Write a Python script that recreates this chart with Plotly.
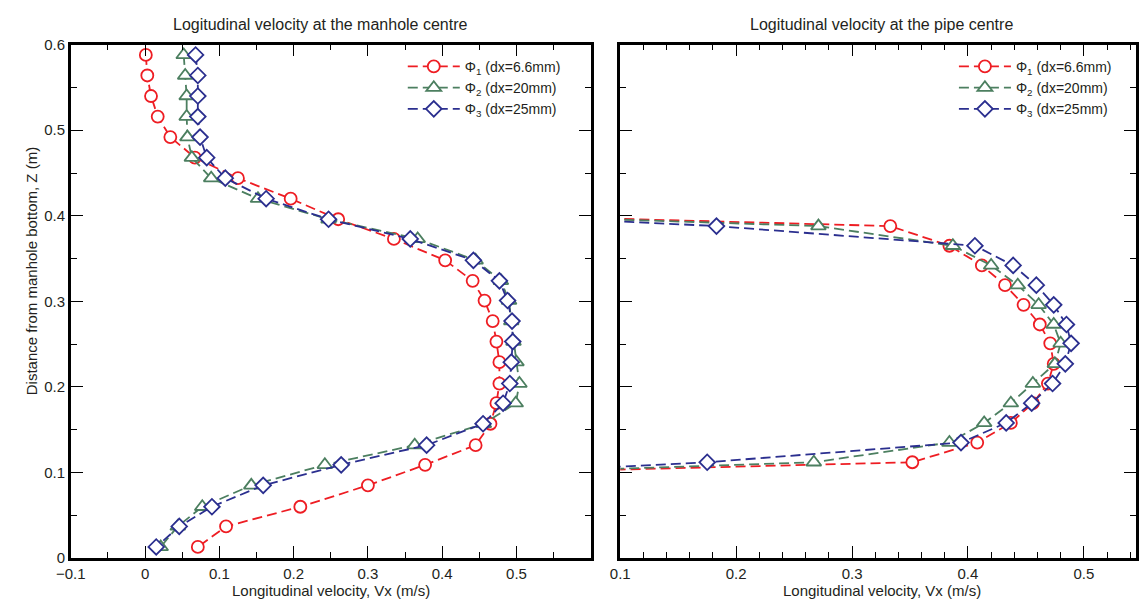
import plotly.graph_objects as go

# ---------------- data ----------------
z_manhole = [0.588, 0.564, 0.540, 0.516, 0.492, 0.468, 0.444, 0.420, 0.396, 0.373,
             0.348, 0.324, 0.301, 0.277, 0.253, 0.229, 0.204, 0.181, 0.157, 0.132,
             0.109, 0.085, 0.060, 0.037, 0.013]
vx_manhole_phi1 = [0.001, 0.003, 0.008, 0.017, 0.034, 0.067, 0.125, 0.196, 0.260, 0.335,
                   0.404, 0.441, 0.457, 0.468, 0.473, 0.477, 0.477, 0.473, 0.465, 0.445,
                   0.377, 0.300, 0.209, 0.109, 0.071]
vx_manhole_phi2 = [0.052, 0.054, 0.056, 0.056, 0.057, 0.063, 0.089, 0.152, 0.247, 0.367,
                   0.445, 0.479, 0.490, 0.493, 0.496, 0.500, 0.504, 0.499, 0.456, 0.363,
                   0.242, 0.143, 0.077, 0.044, 0.021]
vx_manhole_phi3 = [0.068, 0.071, 0.071, 0.071, 0.074, 0.083, 0.108, 0.163, 0.247, 0.357,
                   0.442, 0.477, 0.488, 0.494, 0.495, 0.493, 0.491, 0.482, 0.455, 0.379,
                   0.264, 0.159, 0.090, 0.046, 0.015]

z_pipe = [0.400, 0.388, 0.365, 0.342, 0.319, 0.296, 0.273, 0.251, 0.227, 0.204,
          0.181, 0.158, 0.135, 0.112, 0.100]
vx_pipe_phi1 = [0.0, 0.333, 0.384, 0.412, 0.432, 0.448, 0.462, 0.471, 0.474, 0.469,
                0.456, 0.437, 0.408, 0.352, 0.0]
vx_pipe_phi2 = [0.0, 0.271, 0.387, 0.420, 0.443, 0.461, 0.474, 0.480, 0.475, 0.456,
                0.437, 0.414, 0.384, 0.267, 0.0]
vx_pipe_phi3 = [0.0, 0.183, 0.406, 0.439, 0.459, 0.474, 0.485, 0.489, 0.484, 0.473,
                0.455, 0.433, 0.394, 0.175, 0.0]

series_names = ["Φ<sub>1</sub> (dx=6.6mm)", "Φ<sub>2</sub> (dx=20mm)", "Φ<sub>3</sub> (dx=25mm)"]
panel_titles = ["Logitudinal velocity at the manhole centre", "Logitudinal velocity at the pipe centre"]
x_title = "Longitudinal velocity, Vx (m/s)"
y_title = "Distance from manhole bottom, Z (m)"

# ---------------- style ----------------
colors = ["#EE1D23", "#4C7F60", "#2B2F8F"]
symbols = ["circle", "triangle-up", "diamond"]
msizes = [12, 13, 12]
FONT = "Liberation Sans, Arial, Helvetica, sans-serif"
TXT = "#231F20"
W, H = 1139, 611

fig = go.Figure()

manhole = [vx_manhole_phi1, vx_manhole_phi2, vx_manhole_phi3]
pipe = [vx_pipe_phi1, vx_pipe_phi2, vx_pipe_phi3]

for i in range(3):
    common = dict(
        mode="lines+markers",
        name=series_names[i],
        line=dict(color=colors[i], width=1.8, dash="10px,5px"),
        marker=dict(symbol=symbols[i], size=msizes[i], color="white",
                    line=dict(color=colors[i], width=1.8)),
        cliponaxis=True,
    )
    fig.add_trace(go.Scatter(x=manhole[i], y=z_manhole, xaxis="x", yaxis="y",
                             legend="legend", **common))
    fig.add_trace(go.Scatter(x=pipe[i], y=z_pipe, xaxis="x2", yaxis="y2",
                             legend="legend2", **common))

axis_common = dict(
    showline=True, linecolor="black", linewidth=2.5, mirror="ticks",
    ticks="inside", ticklen=12, tickwidth=1.3, tickcolor="black",
    showgrid=False, zeroline=False,
    tickfont=dict(family=FONT, size=15, color=TXT),
)

def px_x(p):
    return p / W

def px_y(p):
    return 1 - p / H

x1_dom = [px_x(56.7), px_x(585)]
x2_dom = [px_x(615), 1.0]
y_dom = [px_y(564.8), px_y(36.7)]
x2_end = 0.1 + (W - 615) / 1177.5

minor_common = dict(ticks="inside", ticklen=6, tickwidth=1.2, tickcolor="black", showgrid=False)

fig.update_layout(
    width=W, height=H, autosize=False,
    margin=dict(l=0, r=0, t=0, b=0),
    paper_bgcolor="white", plot_bgcolor="white",
    font=dict(family=FONT, color=TXT),
    xaxis=dict(domain=x1_dom, range=[-0.1, 0.6], anchor="y",
               tickmode="array", tickvals=[-0.1, 0, 0.1, 0.2, 0.3, 0.4, 0.5],
               ticktext=["−0.1", "0", "0.1", "0.2", "0.3", "0.4", "0.5"],
               minor=dict(tickmode="linear", tick0=0, dtick=0.05, **minor_common),
               **axis_common),
    yaxis=dict(domain=y_dom, range=[0, 0.6], anchor="x",
               tickmode="linear", tick0=0, dtick=0.1,
               minor=dict(tickmode="linear", tick0=0, dtick=0.05, **minor_common),
               **axis_common),
    xaxis2=dict(domain=x2_dom, range=[0.1, x2_end], anchor="y2",
                tickmode="array", tickvals=[0.1, 0.2, 0.3, 0.4, 0.5],
                ticktext=["0.1", "0.2", "0.3", "0.4", "0.5"],
                minor=dict(tickmode="linear", tick0=0, dtick=0.02, **minor_common),
                **axis_common),
    yaxis2=dict(domain=y_dom, range=[0, 0.6], anchor="x2", showticklabels=False,
                tickmode="linear", tick0=0, dtick=0.1,
                minor=dict(tickmode="linear", tick0=0, dtick=0.05, **minor_common),
                **axis_common),
    legend=dict(x=px_x(394), y=px_y(43), xanchor="left", yanchor="top",
                bgcolor="rgba(0,0,0,0)", borderwidth=0, itemwidth=52,
                font=dict(family=FONT, size=14, color=TXT)),
    legend2=dict(x=px_x(954), y=px_y(43), xanchor="left", yanchor="top",
                 bgcolor="rgba(0,0,0,0)", borderwidth=0, itemwidth=52,
                 font=dict(family=FONT, size=14, color=TXT)),
    showlegend=True,
)

annots = [
    dict(text=panel_titles[0], x=px_x(310), y=px_y(16), size=16),
    dict(text=panel_titles[1], x=px_x(880), y=px_y(16), size=16),
    dict(text=x_title, x=px_x(321), y=px_y(598), size=15),
    dict(text=x_title, x=px_x(881), y=px_y(598), size=15),
]
for a in annots:
    fig.add_annotation(xref="paper", yref="paper", showarrow=False,
                       xanchor="center", yanchor="middle", text=a["text"],
                       x=a["x"], y=a["y"],
                       font=dict(family=FONT, size=a["size"], color=TXT))
fig.add_annotation(text=y_title, xref="paper", yref="paper", x=px_x(17), y=px_y(270),
                   showarrow=False, textangle=-90, xanchor="center", yanchor="middle",
                   font=dict(family=FONT, size=15, color=TXT))

fig.write_html("out.html")
